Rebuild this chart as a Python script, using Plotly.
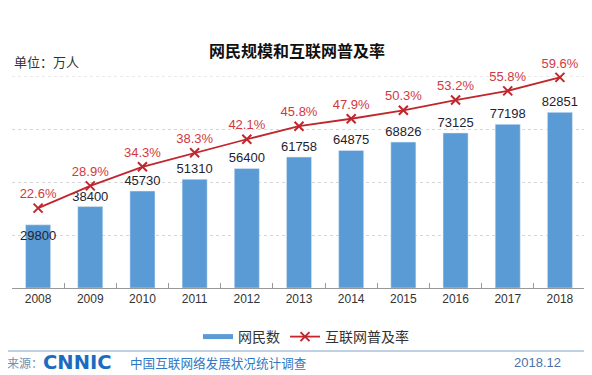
import plotly.graph_objects as go

years = ["2008", "2009", "2010", "2011", "2012", "2013", "2014", "2015", "2016", "2017", "2018"]
netizens = [29800, 38400, 45730, 51310, 56400, 61758, 64875, 68826, 73125, 77198, 82851]
rates = [22.6, 28.9, 34.3, 38.3, 42.1, 45.8, 47.9, 50.3, 53.2, 55.8, 59.6]

title_text = "网民规模和互联网普及率"
unit_text = "单位：万人"
bar_name = "网民数"
line_name = "互联网普及率"
source_label = "来源："
logo_text = "CNNIC"
survey_text = "中国互联网络发展状况统计调查"
date_text = "2018.12"

BAR = "#5b9bd5"
LINE = "#c0262c"
PCT = "#d2383e"
GRID = "#d6d6d6"
LATIN = "Liberation Sans, Arial, Noto Sans CJK SC"
CJK = "Noto Sans CJK SC, Liberation Sans"

# the page body adds an 8px offset; the figure is sized to fit the 592x375 window
OFF = 8
W, H = 592 - OFF, 375 - OFF
PL, PR, PT, PB = 12, 586, 76, 288  # plot area in window pixels
Y_MAX = 100000

fig = go.Figure()

bar_pos = ["inside"] + ["outside"] * (len(years) - 1)
fig.add_trace(go.Bar(
    x=years, y=netizens, name=bar_name, marker_color=BAR,
    text=[str(v) for v in netizens], textposition=bar_pos,
    insidetextanchor="end", constraintext="none", cliponaxis=False,
    textangle=0,
    textfont=dict(family=LATIN, size=13, color="#1f2330"),
    showlegend=False, yaxis="y",
))

# legend stand-in for bars (thick line swatch as in the reference)
fig.add_trace(go.Scatter(
    x=[years[0]], y=[-1000], mode="lines", name=bar_name,
    line=dict(color=BAR, width=5), yaxis="y", hoverinfo="skip",
))

fig.add_trace(go.Scatter(
    x=years, y=rates, name=line_name, mode="lines+markers+text",
    text=[f"{r:.1f}%" for r in rates], textposition="top center",
    textfont=dict(family=LATIN, size=13, color=PCT),
    line=dict(color=LINE, width=1.8),
    marker=dict(symbol="x-thin", size=9, line=dict(color=LINE, width=2), color=LINE),
    yaxis="y2", cliponaxis=False,
))


def px_x(px):
    return (px - PL) / float(PR - PL)


def px_y(py):
    return (PB - py) / float(PB - PT)


annotations = [
    dict(text=f"<b>{title_text}</b>", x=px_x(297), y=px_y(50), xref="paper", yref="paper",
         showarrow=False, xanchor="center", yanchor="middle",
         font=dict(family=CJK, size=16, color="#111111")),
    dict(text=unit_text, x=px_x(12), y=px_y(62), xref="paper", yref="paper",
         showarrow=False, xanchor="left", yanchor="middle",
         font=dict(family=CJK, size=13, color="#333333")),
    dict(text=source_label, x=px_x(5), y=px_y(362), xref="paper", yref="paper",
         showarrow=False, xanchor="left", yanchor="middle",
         font=dict(family=CJK, size=12, color="#6f8fb5")),
    dict(text=f"<b>{logo_text}</b>", x=px_x(41), y=px_y(362), xref="paper", yref="paper",
         showarrow=False, xanchor="left", yanchor="middle",
         font=dict(family="DejaVu Sans", size=19.5, color="#1b6cc0")),
    dict(text=survey_text, x=px_x(128), y=px_y(362), xref="paper", yref="paper",
         showarrow=False, xanchor="left", yanchor="middle",
         font=dict(family=CJK, size=12.6, color="#2f78c4")),
    dict(text=date_text, x=px_x(563), y=px_y(362), xref="paper", yref="paper",
         showarrow=False, xanchor="right", yanchor="middle",
         font=dict(family=LATIN, size=13, color="#4d72a8")),
]

fig.update_layout(
    width=W, height=H,
    margin=dict(l=PL - OFF, r=W - (PR - OFF), t=PT - OFF, b=H - (PB - OFF)),
    paper_bgcolor="white", plot_bgcolor="white",
    bargap=0.52,
    showlegend=True,
    legend=dict(orientation="h", x=px_x(306), xanchor="center", y=px_y(337), yanchor="middle",
                font=dict(family=CJK, size=14, color="#333333"),
                itemwidth=30, bgcolor="rgba(0,0,0,0)"),
    xaxis=dict(
        type="category", categoryorder="array", categoryarray=years,
        range=[-0.5, len(years) - 0.5], automargin=False, tickangle=0,
        showline=True, linecolor="#999999", linewidth=1,
        ticks="inside", ticklen=5, tickcolor="#999999", tickson="boundaries",
        tickfont=dict(family=LATIN, size=12, color="#333333"),
        showgrid=False,
    ),
    yaxis=dict(
        range=[0, Y_MAX], dtick=25000, showticklabels=False, showgrid=True,
        gridcolor=GRID, griddash="dot", gridwidth=1, zeroline=False, showline=False,
        automargin=False,
    ),
    yaxis2=dict(
        range=[0, 60], overlaying="y", side="right", showticklabels=False,
        showgrid=False, zeroline=False, showline=False, automargin=False,
    ),
    annotations=annotations,
    shapes=[
        dict(type="line", xref="paper", yref="paper",
             x0=px_x(OFF), x1=px_x(592), y0=px_y(351), y1=px_y(351),
             line=dict(color="#a8c0d8", width=1.5)),
        dict(type="line", xref="paper", yref="y", x0=0, x1=1, y0=Y_MAX, y1=Y_MAX,
             line=dict(color=GRID, width=1, dash="dot"), layer="below"),
    ],
)

fig.write_html("out.html")
